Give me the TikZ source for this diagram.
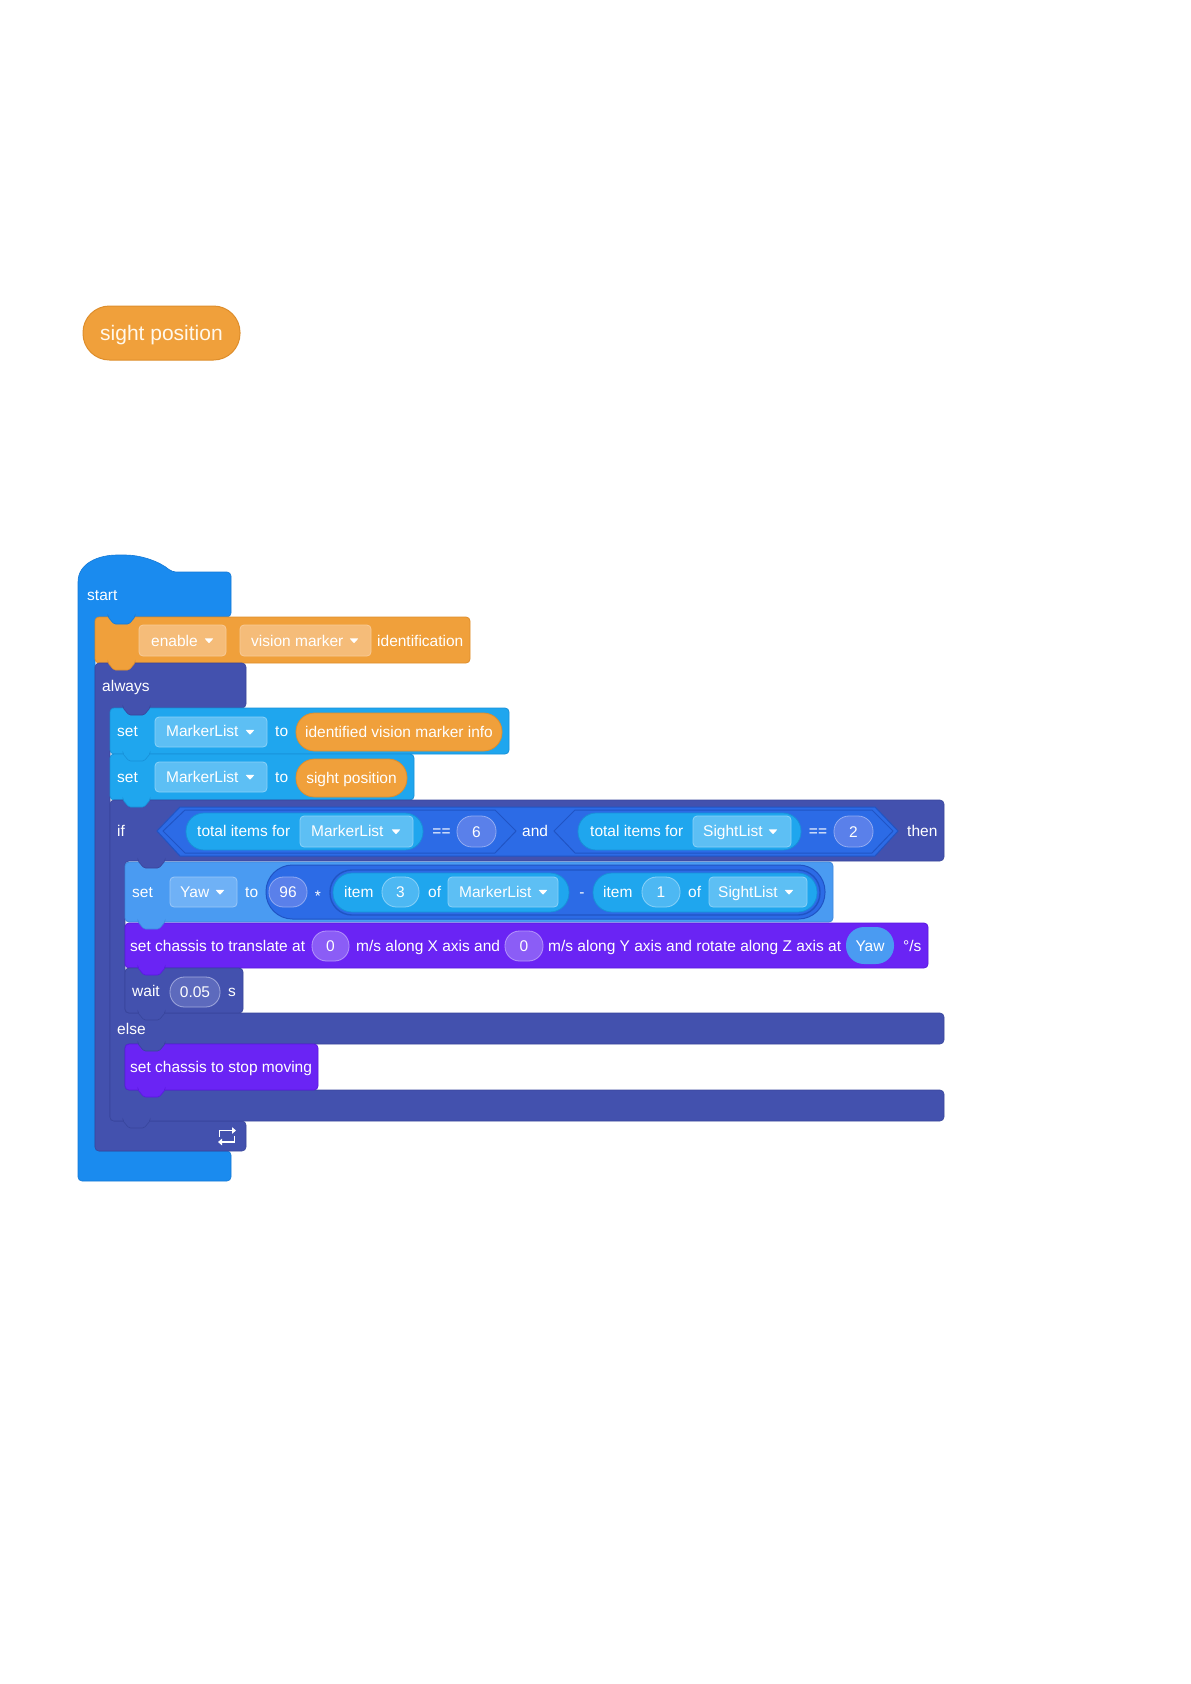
\documentclass[tikz,border=0pt]{standalone}
\usepackage{fontspec}
\setmainfont{Liberation Sans}
\usetikzlibrary{arrows.meta}
\definecolor{startblue}{HTML}{1A8BEF}
\definecolor{startblueD}{HTML}{1479D6}
\definecolor{orange}{HTML}{F0A03B}
\definecolor{orangeD}{HTML}{DE8E2C}
\definecolor{orangeL}{HTML}{F5BC79}
\definecolor{orangeLB}{HTML}{F8CB98}
\definecolor{indigo}{HTML}{4351AE}
\definecolor{indigoD}{HTML}{38459C}
\definecolor{cyan}{HTML}{1FA6EE}
\definecolor{cyanD}{HTML}{1890D8}
\definecolor{cyanL}{HTML}{5DBFF4}
\definecolor{cyanLB}{HTML}{8BD2F8}
\definecolor{cyanN}{HTML}{4DB8F3}
\definecolor{condblue}{HTML}{2C6BE6}
\definecolor{condD}{HTML}{2054C4}
\definecolor{numblue}{HTML}{5A80EA}
\definecolor{numblueB}{HTML}{93ACF2}
\definecolor{ltblue}{HTML}{4A9BF2}
\definecolor{ltblueD}{HTML}{3C88DE}
\definecolor{ltblueL}{HTML}{6FB1F6}
\definecolor{ltblueLB}{HTML}{9CC8F8}
\definecolor{purple}{HTML}{6A24F4}
\definecolor{purpleD}{HTML}{5A18E0}
\definecolor{purpleL}{HTML}{8B5DF6}
\definecolor{purpleLB}{HTML}{B596FA}
\definecolor{waitpill}{HTML}{5D6ABD}
\definecolor{waitpillB}{HTML}{A1A9DD}
\definecolor{pilltext}{HTML}{FFF8EC}
\tikzset{
  txt/.style={text=white, inner sep=0pt, font=\fontsize{15.5}{18}\selectfont, anchor=base west},
  ctxt/.style={txt, anchor=base},
}
\newcommand\tabat[4]{\path[fill=#3,draw=#4,line width=0.6pt,rounded corners=1.5pt] (#1+13,#2-1) -- (#1+13,#2) -- (#1+19,#2+7) -- (#1+34,#2+7) -- (#1+40,#2) -- (#1+40,#2-1);}
\newcommand\tri[2]{\fill[white,rounded corners=0.6pt] (#1-4.5,#2-2.2) -- (#1+4.5,#2-2.2) -- (#1,#2+2.8) -- cycle;}
\newcommand\rbox[7]{\path[fill=#5,draw=#6,line width=0.8pt,rounded corners=#7] (#1,#2) rectangle (#3,#4);}
\begin{document}
\begin{tikzpicture}
\begin{scope}[x=1pt,y=-1pt]
\useasboundingbox[fill=white] (0,0) rectangle (1191,1684);

% ---------- lone reporter ----------
\path[fill=orange,draw=orangeD,line width=1pt,rounded corners=26.5pt] (83,306) rectangle (240,360);
\node[anchor=base, inner sep=0pt, text=pilltext, font=\fontsize{21}{24}\selectfont] (lonepill) at (161.5,340.5) {sight position};

% ---------- block bodies ----------
% start (hat + C)
\path[fill=startblue,draw=startblueD,line width=0.6pt,rounded corners=4pt]
  (78,586) .. controls (78,563) and (99,555) .. (121,555) .. controls (142,555) and (160,562) .. (172,572)
  -- (231,572) -- (231,617) -- (95,617) -- (95,1151) -- (231,1151) -- (231,1181) -- (78,1181) -- cycle;
% enable
\rbox{95}{617}{470}{663}{orange}{orangeD}{4pt}
% always
\path[fill=indigo,draw=indigoD,line width=0.6pt,rounded corners=4pt]
  (95,663) -- (246,663) -- (246,708) -- (110,708) -- (110,1121) -- (246,1121) -- (246,1151) -- (95,1151) -- cycle;
% set 1 and 2
\rbox{110}{708}{509}{754}{cyan}{cyanD}{4pt}
\rbox{110}{754}{414}{800}{cyan}{cyanD}{4pt}
% if / else
\path[fill=indigo,draw=indigoD,line width=0.6pt,rounded corners=4pt]
  (110,800) -- (944,800) -- (944,861) -- (125,861) -- (125,1013) -- (944,1013) -- (944,1044)
  -- (125,1044) -- (125,1090) -- (944,1090) -- (944,1121) -- (110,1121) -- cycle;
% inner blocks
\rbox{125}{862}{833}{922}{ltblue}{ltblueD}{4pt}
\rbox{125}{923}{928}{968}{purple}{purpleD}{4pt}
\rbox{125}{968}{243}{1013}{indigo}{indigoD}{4pt}
\rbox{125}{1044}{318}{1090}{purple}{purpleD}{4pt}

% ---------- tabs ----------
\tabat{95}{617}{startblue}{startblueD}
\tabat{95}{663}{orange}{orangeD}
\tabat{110}{708}{indigo}{indigoD}
\tabat{110}{754}{cyan}{cyanD}
\tabat{110}{800}{cyan}{cyanD}
\tabat{125}{861}{indigo}{indigoD}
\tabat{125}{922}{ltblue}{ltblueD}
\tabat{125}{968}{purple}{purpleD}
\tabat{125}{1013}{indigo}{indigoD}
\tabat{125}{1044}{indigo}{indigoD}
\tabat{125}{1090}{purple}{purpleD}
\tabat{110}{1121}{indigo}{indigoD}

% ---------- start ----------
\node[txt] (tstart) at (87,600.5) {start};

% ---------- enable vision marker ----------
\rbox{139}{625}{226}{656}{orangeL}{orangeLB}{4pt}
\node[txt] (tenable) at (151,646) {enable};
\tri{209}{640.5}
\rbox{240}{625}{371}{656}{orangeL}{orangeLB}{4pt}
\node[txt] (tvm) at (251,646) {vision marker};
\tri{354}{640.5}
\node[txt] (tident) at (377,646) {identification};

% ---------- always ----------
\node[txt] (talways) at (102,691.5) {always};

% ---------- set 1 ----------
\node[txt] (tset1) at (117,736.5) {set};
\rbox{155}{717}{267}{747}{cyanL}{cyanLB}{4pt}
\node[txt] (tml1) at (166,736.5) {MarkerList};
\tri{250}{732}
\node[txt] (tto1) at (275,736.5) {to};
\path[fill=orange,draw=orangeD,line width=0.8pt,rounded corners=18.5pt] (296,713) rectangle (502,751);
\node[ctxt] (tivmi) at (399,737.5) {identified vision marker info};

% ---------- set 2 ----------
\node[txt] (tset2) at (117,782.5) {set};
\rbox{155}{762}{267}{792}{cyanL}{cyanLB}{4pt}
\node[txt] (tml2) at (166,782.5) {MarkerList};
\tri{250}{777}
\node[txt] (tto2) at (275,782.5) {to};
\path[fill=orange,draw=orangeD,line width=0.8pt,rounded corners=18.5pt] (296,759) rectangle (407,797);
\node[ctxt] (tsp) at (351.5,783.5) {sight position};

% ---------- if header ----------
\node[txt] (tif) at (117,836.5) {if};
\path[fill=condblue,draw=condD,line width=1pt] (157,831) -- (180,807) -- (875,807) -- (898,831) -- (875,856) -- (180,856) -- cycle;
\path[fill=condblue,draw=condD,line width=1pt] (163,831) -- (185,810) -- (495,810) -- (516,831) -- (495,853) -- (185,853) -- cycle;
\path[fill=condblue,draw=condD,line width=1pt] (554,831) -- (575,810) -- (872,810) -- (893,831) -- (872,853) -- (575,853) -- cycle;
\path[fill=cyan,draw=cyanD,line width=0.8pt,rounded corners=18pt] (186,813) rectangle (423,850);
\node[txt] (ttot1) at (197,836.5) {total items for};
\rbox{300}{816}{413}{847}{cyanL}{cyanLB}{4pt}
\node[txt] (tml3) at (311,836.5) {MarkerList};
\tri{396}{831.5}
\node[ctxt] (teq1) at (441.5,836.5) {==};
\path[fill=numblue,draw=numblueB,line width=0.8pt,rounded corners=15pt] (457,816) rectangle (496,847);
\node[ctxt] (tsix) at (476.5,837) {6};
\node[txt] (tand) at (522,836.5) {and};
\path[fill=cyan,draw=cyanD,line width=0.8pt,rounded corners=18pt] (578,813) rectangle (801,850);
\node[txt] (ttot2) at (590,836.5) {total items for};
\rbox{693}{816}{791}{847}{cyanL}{cyanLB}{4pt}
\node[txt] (tsl1) at (703,836.5) {SightList};
\tri{773}{831.5}
\node[ctxt] (teq2) at (818,836.5) {==};
\path[fill=numblue,draw=numblueB,line width=0.8pt,rounded corners=15pt] (834,816) rectangle (873,847);
\node[ctxt] (ttwo) at (853.5,837) {2};
\node[txt] (tthen) at (907,836.5) {then};

% ---------- set Yaw ----------
\node[txt] (tset3) at (132,897.5) {set};
\rbox{170}{877}{237}{907}{ltblueL}{ltblueLB}{4pt}
\node[txt] (tyaw1) at (180,897.5) {Yaw};
\tri{220}{892}
\node[txt] (tto3) at (245,897.5) {to};
\path[fill=condblue,draw=condD,line width=1pt,rounded corners=26.5pt] (266,865) rectangle (825,919);
\path[fill=numblue,draw=numblueB,line width=0.8pt,rounded corners=14.5pt] (269,877) rectangle (307,907);
\node[ctxt] (t96) at (288,897.5) {96};
\node[ctxt] (tmul) at (318,901) {*};
\path[fill=condblue,draw=condD,line width=1.4pt,rounded corners=22pt] (330,870) rectangle (820,915);
\path[fill=cyan,draw=cyanD,line width=0.8pt,rounded corners=19pt] (333,873) rectangle (569,912);
\node[txt] (titem1) at (344,897.5) {item};
\path[fill=cyanN,draw=cyanLB,line width=0.8pt,rounded corners=14.5pt] (382,877) rectangle (419,907);
\node[ctxt] (tthree) at (400.5,897.5) {3};
\node[txt] (tof1) at (428,897.5) {of};
\rbox{448}{877}{558}{907}{cyanL}{cyanLB}{4pt}
\node[txt] (tml4) at (459,897.5) {MarkerList};
\tri{543}{892}
\node[ctxt] (tminus) at (582,897.5) {-};
\path[fill=cyan,draw=cyanD,line width=0.8pt,rounded corners=19pt] (593,873) rectangle (817,912);
\node[txt] (titem2) at (603,897.5) {item};
\path[fill=cyanN,draw=cyanLB,line width=0.8pt,rounded corners=14.5pt] (642,877) rectangle (680,907);
\node[ctxt] (tone) at (661,897.5) {1};
\node[txt] (tof2) at (688,897.5) {of};
\rbox{709}{877}{807}{907}{cyanL}{cyanLB}{4pt}
\node[txt] (tsl2) at (718,897.5) {SightList};
\tri{789}{892}

% ---------- set chassis translate ----------
\node[txt] (ttr1) at (130,951) {set chassis to translate at};
\path[fill=purpleL,draw=purpleLB,line width=0.8pt,rounded corners=14.5pt] (312,931) rectangle (349,961);
\node[ctxt] (tz1) at (330.5,951.5) {0};
\node[txt] (ttr2) at (356,951) {m/s along X axis and};
\path[fill=purpleL,draw=purpleLB,line width=0.8pt,rounded corners=14.5pt] (505,931) rectangle (543,961);
\node[ctxt] (tz2) at (524,951.5) {0};
\node[txt] (ttr3) at (548,951) {m/s along Y axis and rotate along Z axis at};
\path[fill=ltblue,rounded corners=18pt] (846,927) rectangle (894,964);
\node[ctxt] (tyaw2) at (870,951.5) {Yaw};
\node[txt] (tdeg) at (903,951) {°/s};

% ---------- wait ----------
\node[txt] (twait) at (132,996.5) {wait};
\path[fill=waitpill,draw=waitpillB,line width=0.8pt,rounded corners=14.5pt] (170,977) rectangle (220,1007);
\node[ctxt] (twt) at (195,997.5) {0.05};
\node[txt] (ts) at (228,996.5) {s};

% ---------- else ----------
\node[txt] (telse) at (117,1034.5) {else};

% ---------- stop ----------
\node[txt] (tstop) at (130,1072.5) {set chassis to stop moving};

% ---------- loop icon ----------
\draw[white,line width=1.8pt,-{Triangle[length=4pt,width=6.5pt]}] (219.5,1137) -- (219.5,1130.5) -- (236,1130.5);
\draw[white,line width=1.8pt,-{Triangle[length=4pt,width=6.5pt]}] (234.5,1135.5) -- (234.5,1142) -- (218,1142);
\end{scope}
\end{tikzpicture}
\end{document}
